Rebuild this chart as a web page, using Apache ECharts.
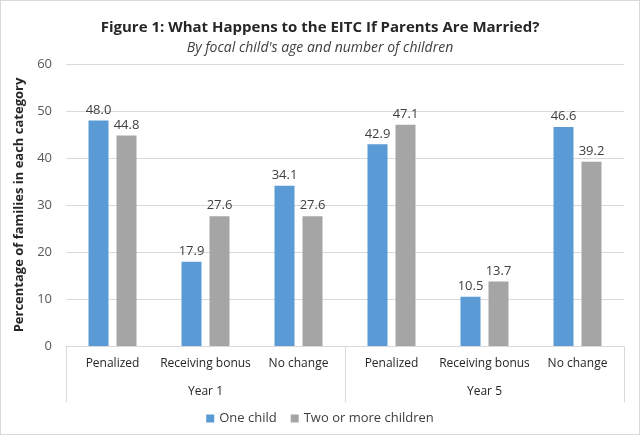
<!DOCTYPE html>
<html><head><meta charset="utf-8">
<script src="https://cdn.jsdelivr.net/npm/echarts@6/dist/echarts.min.js"></script>
<style>html,body{margin:0;padding:0;background:#fff}#c{width:640px;height:435px;box-sizing:border-box;border:1px solid #d9d9d9}</style>
</head><body><div id="c"></div>
<script>
const categories = ['Penalized','Receiving bonus','No change','Penalized','Receiving bonus','No change'];
const groups = ['Year 1','Year 5'];
const oneChild = [48.0, 17.9, 34.1, 42.9, 10.5, 46.6];
const twoOrMore = [44.8, 27.6, 27.6, 47.1, 13.7, 39.2];
const FONT = '"Open Sans", "Noto Sans", sans-serif';
const chart = echarts.init(document.getElementById('c'), null, {renderer:'canvas'});
const lbl = {show:true, position:'top', distance:4, color:'#404040', fontSize:13, fontFamily:FONT, formatter: p => p.value.toFixed(1)};
chart.setOption({
  animation:false,
  textStyle:{fontFamily:FONT},
  title:[
    {text:'Figure 1: What Happens to the EITC If Parents Are Married?', left:'center', top:14, textStyle:{fontSize:15, fontWeight:'bold', color:'#262626', fontFamily:FONT}},
    {text:"By focal child's age and number of children", left:'center', top:35, textStyle:{fontSize:14, fontStyle:'italic', fontWeight:'normal', color:'#404040', fontFamily:FONT}}
  ],
  legend:{bottom:4, left:'center', itemWidth:8, itemHeight:8, itemGap:14, icon:'rect', textStyle:{fontSize:13, color:'#404040', fontFamily:FONT}, data:['One child','Two or more children']},
  grid:{left:65, right:15, top:63, bottom:88, containLabel:false},
  xAxis:[
    {type:'category', data:categories, axisLine:{lineStyle:{color:'#d9d9d9'}}, axisTick:{show:false}, axisLabel:{interval:0, margin:12, fontSize:12, color:'#262626', fontFamily:FONT}},
    {type:'category', data:groups, position:'bottom', axisLine:{show:false}, axisTick:{show:true, length:56, lineStyle:{color:'#d9d9d9'}}, axisLabel:{margin:40, fontSize:12, color:'#262626', fontFamily:FONT}}
  ],
  yAxis:{type:'value', min:0, max:60, interval:10, name:'Percentage of families in each category', nameLocation:'middle', nameGap:40, nameTextStyle:{fontSize:13, fontWeight:'bold', color:'#262626', fontFamily:FONT}, axisLine:{show:false}, axisTick:{show:false}, axisLabel:{fontSize:13, color:'#595959', margin:14, fontFamily:FONT}, splitLine:{lineStyle:{color:'#d9d9d9'}}},
  series:[
    {name:'One child', type:'bar', xAxisIndex:0, data:oneChild, barWidth:20, barGap:'40%', itemStyle:{color:'#5B9BD5'}, label:lbl},
    {name:'Two or more children', type:'bar', xAxisIndex:0, data:twoOrMore, barWidth:20, barGap:'40%', itemStyle:{color:'#A5A5A5'}, label:lbl}
  ]
});
</script></body></html>
